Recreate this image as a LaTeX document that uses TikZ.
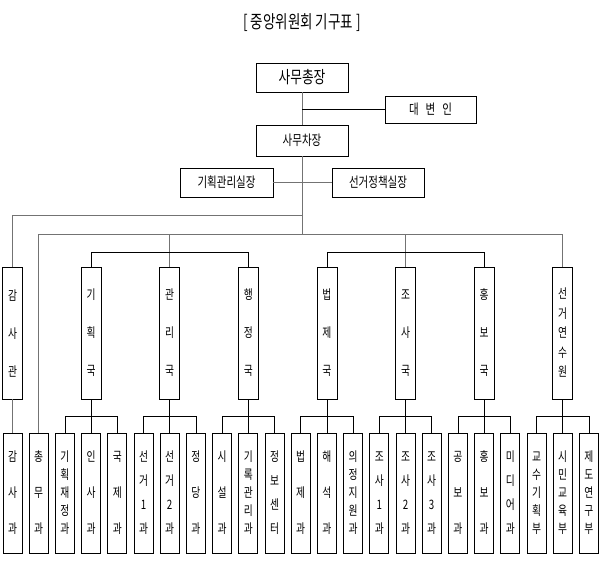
\documentclass[tikz,border=0pt]{standalone}
\usepackage{fontspec}
\usepackage{tikz}
\newfontfamily\kr[FakeStretch=0.75]{Noto Sans CJK KR}

\begin{document}
\begin{tikzpicture}[x=1pt,y=-1pt,line width=0.8pt,
  headbox/.style={draw,inner sep=0,minimum width=92,minimum height=29,font=\kr\fontsize{14}{16}\selectfont},
  bureau/.style={draw,inner sep=0,minimum width=20,minimum height=132,align=center,font=\kr\fontsize{13}{#1}\selectfont},
  section/.style={draw,inner sep=0,minimum width=19,minimum height=120,align=center,font=\kr\fontsize{13}{#1}\selectfont},
  bus/.style={draw=black!55}]
\useasboundingbox (0,0) rectangle (600,560);
\node[font=\kr\fontsize{18}{20}\selectfont] (title) at (302,23) {[ 중앙위원회 기구표 ]};
% top
\node[headbox,font=\kr\fontsize{17}{19}\selectfont] (chong) at (302,77.5) {사무총장};
\node[headbox,minimum width=91,minimum height=27] (daebyeon) at (430.5,109.5) {대\hspace{7pt}변\hspace{7pt}인};
\node[headbox,minimum height=31] (cha) at (302,140.5) {사무차장};
\node[headbox,minimum width=93] (gisil) at (226.5,182.5) {기획관리실장};
\node[headbox] (seonsil) at (378,182.5) {선거정책실장};
% sections
\foreach \i/\t/\s in {0/{감\\사\\과}/36,1/{총\\무\\과}/36,2/{기\\획\\재\\정\\과}/18,3/{인\\사\\과}/36,
  4/{국\\제\\과}/36,5/{선\\거\\1\\과}/24,6/{선\\거\\2\\과}/24,7/{정\\당\\과}/36,8/{시\\설\\과}/36,
  9/{기\\록\\관\\리\\과}/18,10/{정\\보\\센\\터}/24,11/{법\\제\\과}/36,12/{해\\석\\과}/36,
  13/{의\\정\\지\\원\\과}/18,14/{조\\사\\1\\과}/24,15/{조\\사\\2\\과}/24,16/{조\\사\\3\\과}/24,
  17/{공\\보\\과}/36,18/{홍\\보\\과}/36,19/{미\\디\\어\\과}/24,20/{교\\수\\기\\획\\부}/18,
  21/{시\\민\\교\\육\\부}/18,22/{제\\도\\연\\구\\부}/18}
  \node[section=\s] (b\i) at ({12.5+26.2*\i},493) {\t};
% bureaus
\node[bureau=38] (gamsa) at (b0 |- 0,333) {감\\사\\관};
\node[bureau=38] (gihoek) at (b3 |- 0,333) {기\\획\\국};
\node[bureau=38] (gwanri) at (b6 |- 0,333) {관\\리\\국};
\node[bureau=38] (haengjeong) at (b9 |- 0,333) {행\\정\\국};
\node[bureau=38] (beopje) at (b12 |- 0,333) {법\\제\\국};
\node[bureau=38] (josa) at (b15 |- 0,333) {조\\사\\국};
\node[bureau=38] (hongbo) at (b18 |- 0,333) {홍\\보\\국};
\node[bureau=19.5] (yeonsu) at (b21 |- 0,333) {선\\거\\연\\수\\원};
% upper lines
\draw[bus] (chong) -- (cha);
\draw (chong.south |- daebyeon) -- (daebyeon.west);
\draw[bus] (gisil) -- (seonsil);
\draw[bus] (cha.south) -- (cha.south |- 0,234);
\draw[bus] (cha.south |- 0,215) -| (gamsa.north);
\draw[bus] (b1.north) |- (yeonsu.north |- 0,234) -- (yeonsu.north);
\draw[bus] (gwanri.north |- 0,234) -- (gwanri.north);
\draw[bus] (josa.north |- 0,234) -- (josa.north);
\draw (gihoek.north) |- (haengjeong.north |- 0,252) -- (haengjeong.north);
\draw (beopje.north) |- (hongbo.north |- 0,252) -- (hongbo.north);
% lower lines
\draw[bus] (gamsa) -- (b0);
\draw (gihoek) -- (b3);
\draw (b2.north) -- ++(0,-16) -| (b4.north);
\draw (gwanri) -- (b6);
\draw (b5.north) -- ++(0,-16) -| (b7.north);
\draw (haengjeong) -- (b9);
\draw (b8.north) -- ++(0,-16) -| (b10.north);
\draw (beopje) -- (b12);
\draw (b11.north) -- ++(0,-16) -| (b13.north);
\draw (josa) -- (b15);
\draw (b14.north) -- ++(0,-16) -| (b16.north);
\draw (hongbo) -- (b18);
\draw (b17.north) -- ++(0,-16) -| (b19.north);
\draw (yeonsu) -- (b21);
\draw (b20.north) -- ++(0,-16) -| (b22.north);
\end{tikzpicture}
\end{document}
